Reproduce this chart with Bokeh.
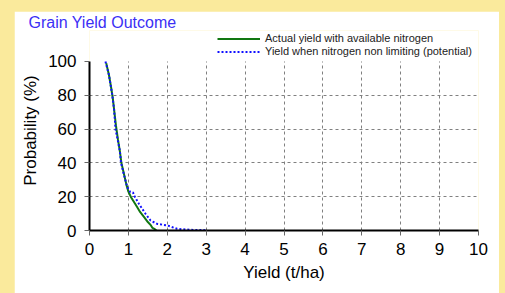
from bokeh.plotting import figure
from bokeh.layouts import column
from bokeh.models import Legend, LegendItem, FixedTicker
from bokeh.embed import file_html
from bokeh.resources import INLINE

# Data
actual_yield = [0.43, 0.50, 0.56, 0.60, 0.64, 0.68, 0.73, 0.78, 0.82, 0.88, 0.95, 1.00,
                1.06, 1.14, 1.22, 1.30, 1.40, 1.50, 1.58, 1.62, 1.68, 1.72]
actual_prob = [99, 92, 84, 78, 70, 62, 54, 47, 40, 34, 27, 23,
               20, 17, 14, 11, 8, 5, 3, 1.5, 0.8, 0]
potential_yield = [0.41, 0.50, 0.58, 0.63, 0.67, 0.73, 0.78, 0.81, 0.88, 0.97, 1.05, 1.12,
                   1.14, 1.27, 1.44, 1.57, 1.74, 2.0, 2.25, 2.6, 3.0]
potential_prob = [100, 92, 81, 72, 60, 53, 47, 40, 33.5, 25.6, 22.7, 22.5,
                  21, 15.8, 9.9, 5.9, 3.9, 3.0, 1.0, 0.4, 0.2]
x_ticks = list(range(0, 11))
y_ticks = [0, 20, 40, 60, 80, 100]

FONT = "Liberation Sans"
YELLOW = "#faea9c"

p = figure(width=485, height=282, x_range=(0, 10), y_range=(0, 118.3),
           output_backend="svg", toolbar_location=None,
           min_border_left=75, min_border_right=21, min_border_top=19, min_border_bottom=63)
p.border_fill_color = "white"
p.background_fill_color = "white"
p.outline_line_color = None

p.title.text = "Grain Yield Outcome"
p.title.align = "left"
p.title.offset = -61
p.title.standoff = 0
p.title.text_font = FONT
p.title.text_font_size = "16px"
p.title.text_font_style = "normal"
p.title.text_color = "#3b2ff5"

# grid
p.xgrid.ticker = FixedTicker(ticks=x_ticks[1:])
p.ygrid.ticker = FixedTicker(ticks=y_ticks[1:-1])
p.xgrid.cross_bounds = (0, 100)
for g in (p.xgrid, p.ygrid):
    g.grid_line_color = "#808080"
    g.grid_line_dash = "3 3"
    g.grid_line_width = 1

# axes
p.xaxis.ticker = FixedTicker(ticks=x_ticks)
p.yaxis.ticker = FixedTicker(ticks=y_ticks)
p.yaxis.bounds = (0, 100)
for ax in (p.xaxis, p.yaxis):
    ax.axis_line_color = "black"
    ax.axis_line_width = 2
    ax.major_tick_line_color = "#666666"
    ax.major_tick_in = 0
    ax.major_tick_out = 5
    ax.minor_tick_line_color = None
    ax.major_label_text_font = FONT
    ax.major_label_text_font_size = "17px"
    ax.major_label_text_color = "black"
    ax.axis_label_text_font = FONT
    ax.axis_label_text_font_size = "17px"
    ax.axis_label_text_font_style = "normal"
    ax.axis_label_text_color = "black"
p.xaxis.major_label_standoff = 7
p.yaxis.major_label_standoff = 8
p.xaxis.axis_label = "Yield (t/ha)"
p.yaxis.axis_label = "Probability (%)"
p.xaxis.axis_label_standoff = 5
p.yaxis.axis_label_standoff = 5

r1 = p.line(actual_yield, actual_prob, line_color="#117711", line_width=2)
r2 = p.line(potential_yield, potential_prob, line_color="#1010ff", line_width=2, line_dash="2 2")

legend = Legend(items=[LegendItem(label="Actual yield with available nitrogen", renderers=[r1]),
                       LegendItem(label="Yield when nitrogen non limiting (potential)", renderers=[r2])],
                location=(128, 172.5), orientation="vertical",
                glyph_width=43, glyph_height=13, label_height=13, label_standoff=5,
                spacing=0, padding=0, margin=0, border_line_color=None,
                background_fill_alpha=0, label_text_font=FONT, label_text_font_size="11px",
                label_text_color="#222222")
p.add_layout(legend, "center")

layout = column(p, styles={"background-color": YELLOW, "padding-left": "14px", "padding-top": "11px"},
                width=505, height=293)

open("out.html", "w").write(file_html(layout, INLINE))
